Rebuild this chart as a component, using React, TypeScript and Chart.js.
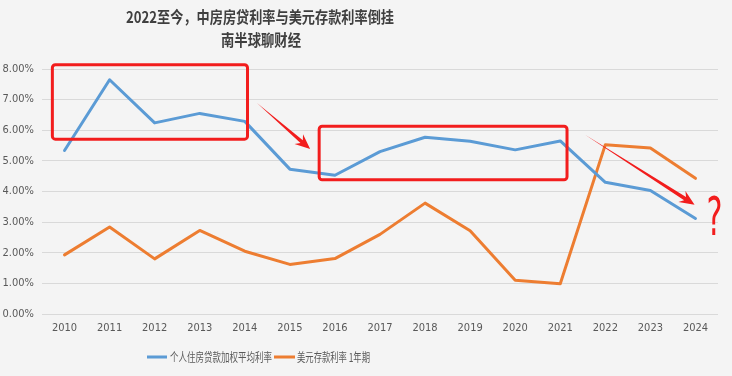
import React, { useEffect, useRef } from 'react';
import { Chart, registerables } from 'chart.js';

Chart.register(...registerables);

const years = ['2010', '2011', '2012', '2013', '2014', '2015', '2016', '2017', '2018', '2019', '2020', '2021', '2022', '2023', '2024'];
const mortgageRate = [5.34, 7.65, 6.24, 6.55, 6.29, 4.73, 4.53, 5.3, 5.77, 5.64, 5.36, 5.65, 4.3, 4.03, 3.12];
const usdDepositRate = [1.93, 2.84, 1.8, 2.73, 2.05, 1.62, 1.81, 2.6, 3.62, 2.72, 1.1, 0.99, 5.53, 5.42, 4.43];

const seriesNames = ['个人住房贷款加权平均利率', '美元存款利率 1年期'];
const titleLines = ['2022至今，中房房贷利率与美元存款利率倒挂', '南半球聊财经'];

// annotation boxes / arrows in data space: [xIndexFrom, yFrom, xIndexTo, yTo]
const boxes = [
  [-0.27, 8.14, 4.06, 5.71],
  [5.65, 6.13, 11.15, 4.38],
];
const arrows = [
  [4.27, 6.89, 5.45, 5.39],
  [11.55, 5.85, 13.98, 3.57],
];
const questionMark = [14.42, 3.05];

const BLUE = '#5b9bd5';
const ORANGE = '#ed7d31';
const RED = '#f21d1d';
const BG = '#f4f4f4';
const NARROW = "'Liberation Sans Narrow', 'DejaVu Sans Condensed', 'Liberation Sans', Arial, sans-serif";
const CJK = "'Noto Sans CJK SC', 'Noto Sans', sans-serif";

function fitText(ctx: CanvasRenderingContext2D, text: string, cx: number, cy: number, width: number) {
  const w = ctx.measureText(text).width;
  const s = width / w;
  ctx.save();
  ctx.translate(cx, cy);
  ctx.scale(s, 1);
  ctx.textAlign = 'center';
  ctx.textBaseline = 'middle';
  ctx.fillText(text, 0, 0);
  ctx.restore();
}

const bgPlugin = {
  id: 'bg',
  beforeDraw(chart: any) {
    const ctx = chart.ctx;
    ctx.save();
    ctx.fillStyle = BG;
    ctx.fillRect(0, 0, chart.width, chart.height);
    ctx.restore();
  },
};

const decorPlugin = {
  id: 'decor',
  afterDatasetsDraw(chart: any) {
    const ctx: CanvasRenderingContext2D = chart.ctx;
    const xs = chart.scales.x;
    const ys = chart.scales.y;
    const px = (i: number) => xs.getPixelForValue(0) + i * (xs.getPixelForValue(1) - xs.getPixelForValue(0));
    const py = (v: number) => ys.getPixelForValue(v);

    ctx.save();
    // boxes
    ctx.strokeStyle = RED;
    ctx.lineWidth = 3;
    ctx.lineJoin = 'round';
    for (const b of boxes) {
      const x1 = px(b[0]), y1 = py(b[1]), x2 = px(b[2]), y2 = py(b[3]);
      ctx.beginPath();
      (ctx as any).roundRect(x1, y1, x2 - x1, y2 - y1, 3);
      ctx.stroke();
    }
    // arrows
    ctx.fillStyle = RED;
    for (const a of arrows) {
      const x1 = px(a[0]), y1 = py(a[1]), x2 = px(a[2]), y2 = py(a[3]);
      const dx = x2 - x1, dy = y2 - y1;
      const L = Math.hypot(dx, dy);
      const ux = dx / L, uy = dy / L;
      const nx = -uy, ny = ux;
      const h = 15;
      const pt = (t: number, w: number) => [x1 + ux * t + nx * w, y1 + uy * t + ny * w];
      const poly = [pt(0, 0), pt(L - h * 0.75, 1.8), pt(L - h, 6.5), pt(L, 0), pt(L - h, -6.5), pt(L - h * 0.75, -1.8)];
      ctx.beginPath();
      ctx.moveTo(poly[0][0], poly[0][1]);
      for (let i = 1; i < poly.length; i++) ctx.lineTo(poly[i][0], poly[i][1]);
      ctx.closePath();
      ctx.fill();
    }
    // question mark (hand-drawn look: tall and thin)
    ctx.font = `54px ${NARROW}`;
    ctx.textAlign = 'center';
    ctx.textBaseline = 'middle';
    ctx.fillStyle = RED;
    ctx.translate(px(questionMark[0]), py(questionMark[1]));
    ctx.scale(0.62, 1);
    ctx.fillText('?', 0, 0);
    ctx.restore();
  },
  afterDraw(chart: any) {
    const ctx: CanvasRenderingContext2D = chart.ctx;
    ctx.save();
    // title
    ctx.fillStyle = '#3f3f3f';
    ctx.font = `bold 16px ${CJK}`;
    fitText(ctx, titleLines[0], 260, 17, 268);
    fitText(ctx, titleLines[1], 261, 39.5, 80);
    // legend
    const ly = 357;
    ctx.font = `12px ${CJK}`;
    ctx.fillStyle = '#595959';
    ctx.lineWidth = 3;
    ctx.strokeStyle = BLUE;
    ctx.beginPath();
    ctx.moveTo(147, ly);
    ctx.lineTo(167, ly);
    ctx.stroke();
    fitText(ctx, seriesNames[0], 221, ly, 102);
    ctx.strokeStyle = ORANGE;
    ctx.beginPath();
    ctx.moveTo(274, ly);
    ctx.lineTo(295, ly);
    ctx.stroke();
    fitText(ctx, seriesNames[1], 333.5, ly, 73);
    ctx.restore();
  },
};

export default function App() {
  const ref = useRef<HTMLCanvasElement>(null);
  useEffect(() => {
    if (!ref.current) return;
    const chart = new Chart(ref.current, {
      type: 'line',
      data: {
        labels: years,
        datasets: [
          {
            label: seriesNames[0],
            data: mortgageRate,
            borderColor: BLUE,
            backgroundColor: BLUE,
            borderWidth: 3,
            pointRadius: 0,
            tension: 0,
            borderJoinStyle: 'round',
            borderCapStyle: 'round',
          },
          {
            label: seriesNames[1],
            data: usdDepositRate,
            borderColor: ORANGE,
            backgroundColor: ORANGE,
            borderWidth: 3,
            pointRadius: 0,
            tension: 0,
            borderJoinStyle: 'round',
            borderCapStyle: 'round',
          },
        ],
      },
      options: {
        responsive: false,
        animation: false,
        layout: { padding: { top: 69, right: 14, bottom: 32, left: 0 } },
        plugins: {
          legend: { display: false },
          title: { display: false },
          tooltip: { enabled: false },
        },
        scales: {
          x: {
            offset: true,
            grid: { display: false, drawTicks: false },
            border: { display: false },
            ticks: { color: '#595959', font: { family: NARROW, size: 11 }, padding: 8, maxRotation: 0, autoSkip: false },
            afterFit: (s: any) => { s.height = 30; },
          },
          y: {
            min: 0,
            max: 8,
            grid: { color: '#d9d9d9', lineWidth: 1, drawTicks: false },
            border: { display: false },
            ticks: {
              stepSize: 1,
              color: '#595959',
              font: { family: NARROW, size: 11 },
              padding: 8,
              callback: (v: any) => Number(v).toFixed(2) + '%',
            },
            afterFit: (s: any) => { s.width = 42; },
          },
        },
      },
      plugins: [bgPlugin, decorPlugin],
    } as any);
    return () => chart.destroy();
  }, []);
  return (
    <div style={{ position: 'fixed', left: 0, top: 0, width: 732, height: 376, background: BG }}>
      <canvas ref={ref} width={732} height={376} style={{ display: 'block' }} />
    </div>
  );
}
